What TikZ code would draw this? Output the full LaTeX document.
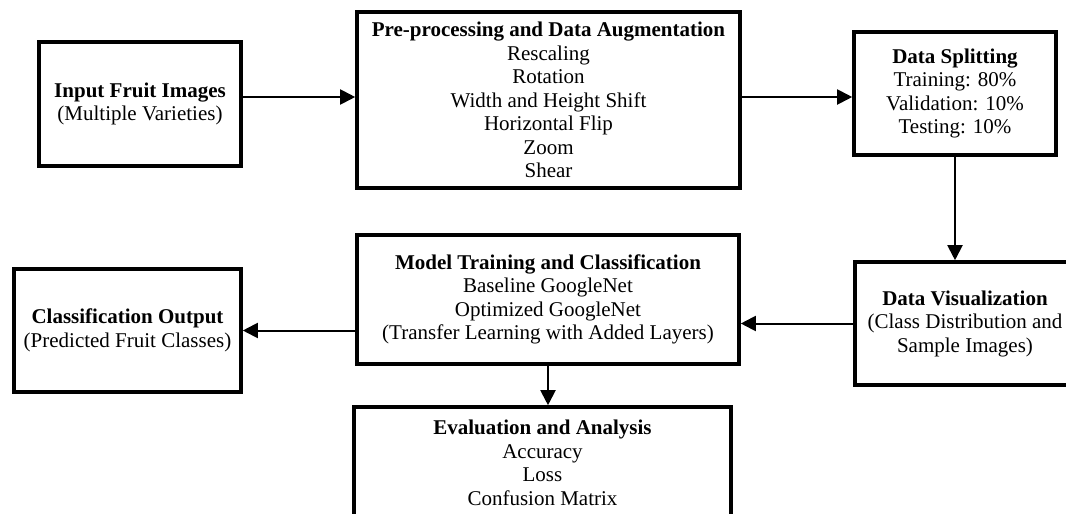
\documentclass[tikz,border=0pt]{standalone}
\usepackage{fontspec}
\setmainfont{Liberation Serif}
\usetikzlibrary{arrows.meta}
\begin{document}
\begin{tikzpicture}[x=1pt,y=-1pt,
  box/.style={draw=black,line width=3.6pt,rectangle,align=center,inner sep=0pt,
    font=\fontsize{21}{23.5}\selectfont},
  arr/.style={line width=2pt,-{Triangle[length=15pt,width=15pt]}}]
\useasboundingbox (0,0) rectangle (1066,514);
\clip (0,0) rectangle (1066,514);
\node[box,minimum width=202pt,minimum height=124pt] (in) at (140,104)
  {\textbf{Input Fruit Images}\\(Multiple Varieties)};
\node[box,minimum width=383pt,minimum height=176pt] (pre) at (548.5,100)
  {\textbf{Pre-processing and Data Augmentation}\\Rescaling\\Rotation\\Width and Height Shift\\Horizontal Flip\\Zoom\\Shear};
\node[box,minimum width=202pt,minimum height=123pt] (split) at (955,93.5)
  {\textbf{Data Splitting}\\Training: 80\%\\Validation: 10\%\\Testing: 10\%};
\node[box,minimum width=220pt,minimum height=123pt] (vis) at (965,323.5)
  {\textbf{Data Visualization}\\(Class Distribution and\\Sample Images)};
\node[box,minimum width=382pt,minimum height=129pt] (model) at (548,299.5)
  {\textbf{Model Training and Classification}\\Baseline GoogleNet\\Optimized GoogleNet\\(Transfer Learning with Added Layers)};
\node[box,minimum width=227pt,minimum height=123pt] (cls) at (127.5,330.5)
  {\textbf{Classification Output}\\(Predicted Fruit Classes)};
\node[box,minimum width=377pt,minimum height=112pt] (eval) at (542.5,463)
  {\textbf{Evaluation and Analysis}\\Accuracy\\Loss\\Confusion Matrix};
\coordinate (r1) at (0,97);
\draw[arr] (in.east |- r1) -- (pre.west |- r1);
\draw[arr] (pre.east |- r1) -- (split.west |- r1);
\draw[arr] (split.south) -- (split.south |- vis.north);
\draw[arr] (vis.west) -- (vis.west -| model.east);
\draw[arr] (model.west |- cls.east) -- (cls.east);
\draw[arr] (model.south) -- (model.south |- eval.north);
\end{tikzpicture}
\end{document}
